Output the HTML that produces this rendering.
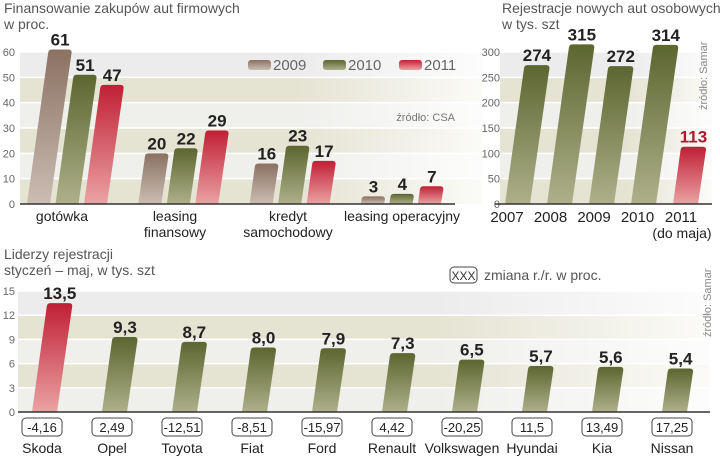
<!DOCTYPE html>
<html><head><meta charset="utf-8">
<style>
html,body{margin:0;padding:0;background:#fff;}
svg{display:block;font-family:"Liberation Sans",sans-serif;}
</style></head>
<body>
<svg id="c" width="720" height="459" viewBox="0 0 720 459">
<defs>
<linearGradient id="gBrown" x1="0" y1="0" x2="0" y2="1"><stop offset="0" stop-color="#8a7162"/><stop offset="1" stop-color="#cbbdb3"/></linearGradient>
<linearGradient id="gOlive" x1="0" y1="0" x2="0" y2="1"><stop offset="0" stop-color="#5c6630"/><stop offset="1" stop-color="#aeb08a"/></linearGradient>
<linearGradient id="gRed" x1="0" y1="0" x2="0" y2="1"><stop offset="0" stop-color="#c01f35"/><stop offset="1" stop-color="#eaa3a3"/></linearGradient>
<linearGradient id="fade" x1="0" y1="0" x2="1" y2="0"><stop offset="0.6" stop-color="#fff" stop-opacity="0"/><stop offset="1" stop-color="#fff" stop-opacity="0.85"/></linearGradient>
</defs>

<g font-size="14" fill="#555">
<text x="4" y="13">Finansowanie zakupów aut firmowych</text>
<text x="4" y="29">w proc.</text>
</g>
<g font-size="14" fill="#555">
<text x="502" y="13">Rejestracje nowych aut osobowych</text>
<text x="502" y="29">w tys. szt</text>
</g>
<g font-size="14" fill="#555">
<text x="4" y="259">Liderzy rejestracji</text>
<text x="4" y="275">styczeń – maj, w tys. szt</text>
</g>

<g id="legend1" font-size="15" fill="#666">
<rect x="248" y="60" width="23" height="10" rx="3" fill="url(#gBrown)"/>
<text x="273" y="70">2009</text>
<rect x="323" y="60" width="23" height="10" rx="3" fill="url(#gOlive)"/>
<text x="348" y="70">2010</text>
<rect x="399" y="60" width="23" height="10" rx="3" fill="url(#gRed)"/>
<text x="424" y="70">2011</text>
</g>
<g id="sources">
<text x="455" y="121" font-size="11" fill="#777" text-anchor="end">źródło: CSA</text>
<text transform="translate(707,110) rotate(-90)" font-size="11" fill="#888">źródło: Samar</text>
<text transform="translate(711,337) rotate(-90)" font-size="11" fill="#888">źródło: Samar</text>
</g>

<g>
<rect x="450" y="267" width="27" height="16" rx="4" fill="#fff" stroke="#444" stroke-width="1"/>
<text x="463.5" y="280" font-size="12" fill="#333" text-anchor="middle">XXX</text>
<text x="484" y="280" font-size="14" fill="#555">zmiana r./r. w proc.</text>
</g>
</svg>

<script>
// ---- Chart 1: financing (percent) ----
const finCategories = ["gotówka", "leasing finansowy", "kredyt samochodowy", "leasing operacyjny"];
const finSeriesNames = ["2009", "2010", "2011"];
const fin2009 = [61, 20, 16, 3];
const fin2010 = [51, 22, 23, 4];
const fin2011 = [47, 29, 17, 7];
const finTicks = [0, 10, 20, 30, 40, 50, 60];

// ---- Chart 2: registrations (thousand units) ----
const regYears = ["2007", "2008", "2009", "2010", "2011"];
const regValues = [274, 315, 272, 314, 113];
const regTicks = [0, 50, 100, 150, 200, 250, 300];

// ---- Chart 3: leaders ----
const brands = ["Skoda", "Opel", "Toyota", "Fiat", "Ford", "Renault", "Volkswagen", "Hyundai", "Kia", "Nissan"];
const brandValues = [13.5, 9.3, 8.7, 8.0, 7.9, 7.3, 6.5, 5.7, 5.6, 5.4];
const brandChange = ["-4,16", "2,49", "-12,51", "-8,51", "-15,97", "4,42", "-20,25", "11,5", "13,49", "17,25"];
const brandTicks = [0, 3, 6, 9, 12, 15];

const svg = document.getElementById('c');
const NS = 'http://www.w3.org/2000/svg';
const SLOPE = 0.14;
function mk(tag, attrs, parent) {
  const e = document.createElementNS(NS, tag);
  for (const k in attrs) e.setAttribute(k, attrs[k]);
  (parent || svg).appendChild(e);
  return e;
}
function yScale(v, y0, y1, vmax) { return y0 - (v / vmax) * (y0 - y1); }

function background(g, x0, x1, y0, ticks, y) {
  for (let i = 0; i < ticks.length - 1; i++) {
    const top = y(ticks[i + 1]), bot = y(ticks[i]);
    const fromTop = ticks.length - 2 - i;
    const band = mk('rect', {x: x0, y: top, width: x1 - x0, height: bot - top, fill: fromTop === 0 ? '#ececec' : (fromTop % 2 === 1 ? '#e5e3d2' : '#efefec')}, g);
    
    
  }
  for (let i = 1; i < ticks.length; i++) {
    const gl = mk('line', {x1: x0, x2: x1, y1: y(ticks[i]), y2: y(ticks[i]), stroke: '#fff', 'stroke-width': 1.5}, g);
    
    
  }
  const f = mk('rect', {x: x0, y: y(ticks[ticks.length - 1]), width: x1 - x0, height: y0 - y(ticks[ticks.length - 1]), fill: 'url(#fade)'}, g);
  
  
}
function axis(g, x0, x1, y0, ticks, y, labelX) {
  ticks.forEach(t => {
    const tl = mk('text', {x: labelX, y: y(t) + 4, 'font-size': 11, fill: '#666', 'text-anchor': 'end'}, g);
    tl.textContent = t;
    
    
  });
  const ax = mk('line', {x1: x0, x2: x1, y1: y0, y2: y0, stroke: '#333', 'stroke-width': 1.5}, g);
  
  
}
function bar(g, xb, w, y0, yt, fill, label, name, labelColor) {
  const lean = (y0 - yt) * SLOPE;
  const r = 3;
  const d = `M${xb},${y0} L${xb + lean - r * SLOPE},${yt + r} Q${xb + lean},${yt} ${xb + lean + r},${yt} L${xb + lean + w - r},${yt} Q${xb + lean + w},${yt} ${xb + lean + w},${yt + r} L${xb + w},${y0} Z`;
  const p = mk('path', {d: d, fill: fill}, g);
  
  
  const t = mk('text', {x: xb + lean + w / 2, y: yt - 4, 'font-size': 17, 'font-weight': 'bold', fill: labelColor || '#222', 'text-anchor': 'middle'}, g);
  t.textContent = label;
  
  
}

// Chart 1
(function () {
  const g = mk('g', {});
  
  
  const y0 = 204, y1 = 52, vmax = 60;
  const y = v => yScale(v, y0, y1, vmax);
  background(g, 20, 482, y0, finTicks, y);
  const series = [fin2009, fin2010, fin2011];
  const fills = ['url(#gBrown)', 'url(#gOlive)', 'url(#gRed)'];
  finCategories.forEach((c, i) => {
    series.forEach((s, j) => {
      bar(g, 27 + i * 111.3 + j * 28.5, 23, y0, y(s[i]), fills[j], String(s[i]), 'bar-' + finSeriesNames[j] + '-' + i);
    });
    const words = c.split(' ');
    const cx = 62 + i * 113;
    words.forEach((wd, k) => {
      const t = mk('text', {x: i === 3 ? 402 : cx, y: 221 + k * 16, 'font-size': 14, fill: '#222', 'text-anchor': 'middle'}, g);
      t.textContent = i === 3 ? (k === 0 ? c : '') : wd;
      
      
    });
  });
  axis(g, 20, 455, y0, finTicks, y, 15);
  svg.appendChild(document.getElementById('legend1'));
})();

// Chart 2
(function () {
  const g = mk('g', {});
  
  
  const y0 = 204, y1 = 52, vmax = 300;
  const y = v => yScale(v, y0, y1, vmax);
  background(g, 500, 712, y0, regTicks, y);
  regYears.forEach((yr, i) => {
    const last = i === regYears.length - 1;
    bar(g, 505 + i * 42, 25, y0, y(regValues[i]), last ? 'url(#gRed)' : 'url(#gOlive)', String(regValues[i]), 'bar-' + yr, last ? '#b01a30' : '#222');
    const t = mk('text', {x: 507 + i * 43.5, y: 222, 'font-size': 15, fill: '#222', 'text-anchor': 'middle'}, g);
    t.textContent = yr;
    
    
  });
  const dm = mk('text', {x: 682, y: 238, 'font-size': 14, fill: '#222', 'text-anchor': 'middle'}, g);
  dm.textContent = '(do maja)';
  
  
  axis(g, 495, 712, y0, regTicks, y, 500);
})();

// Chart 3
(function () {
  const g = mk('g', {});
  
  
  const y0 = 412, y1 = 291, vmax = 15;
  const y = v => yScale(v, y0, y1, vmax);
  background(g, 18, 710, y0, brandTicks, y);
  brands.forEach((b, i) => {
    const xb = 32 + i * 70;
    bar(g, xb, 25, y0, y(brandValues[i]), i === 0 ? 'url(#gRed)' : 'url(#gOlive)', brandValues[i].toFixed(1).replace('.', ','), 'bar-' + b.toLowerCase());
    const cx = xb + 10;
    const box = mk('rect', {x: cx - 20, y: 418, width: 40, height: 18, rx: 4, fill: '#fff', stroke: '#444', 'stroke-width': 1}, g);
    
    
    const ct = mk('text', {x: cx, y: 432, 'font-size': 13, fill: '#222', 'text-anchor': 'middle'}, g);
    ct.textContent = brandChange[i];
    
    
    const nt = mk('text', {x: cx, y: 453, 'font-size': 14, fill: '#222', 'text-anchor': 'middle'}, g);
    nt.textContent = b;
    
    
  });
  axis(g, 18, 710, y0, brandTicks, y, 15);
})();
svg.appendChild(document.getElementById('sources'));
</script>
</body></html>
